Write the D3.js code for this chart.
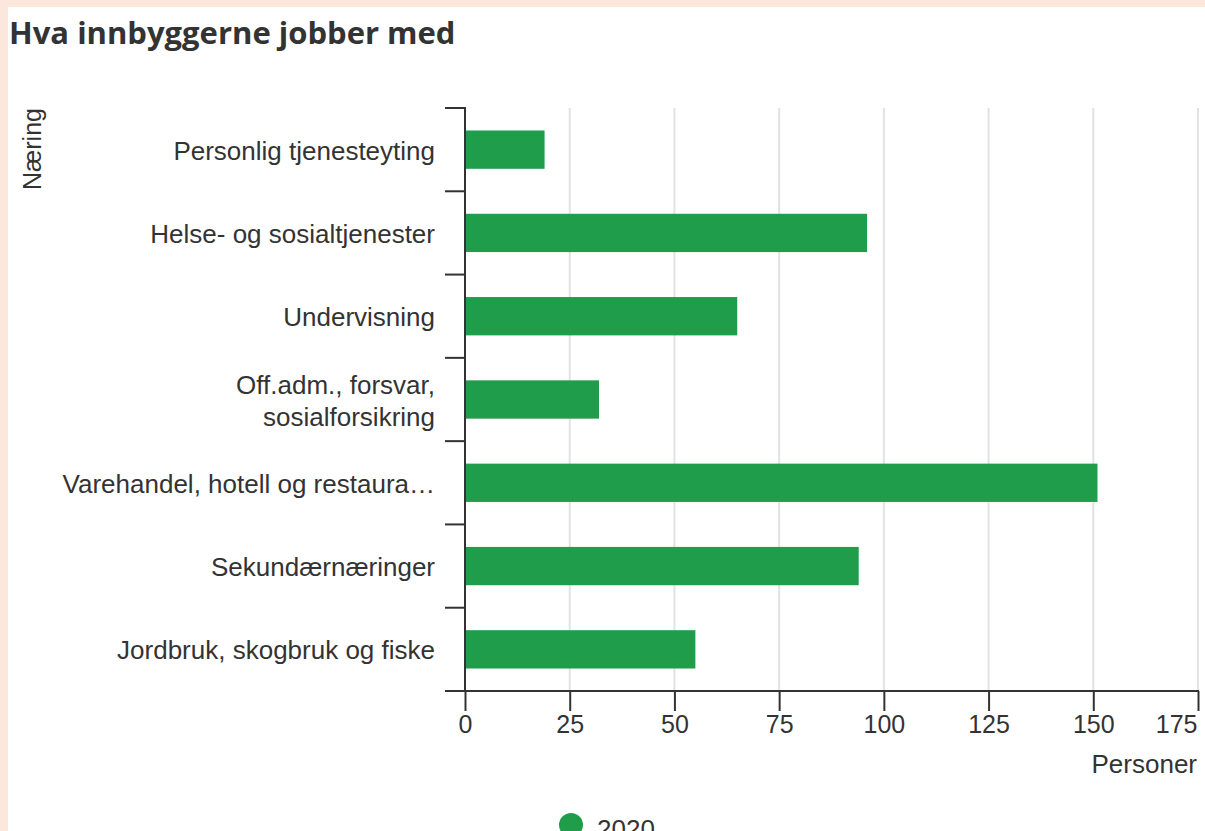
<!DOCTYPE html>
<html>
<head>
<meta charset="utf-8">
<script src="https://cdn.jsdelivr.net/npm/d3@7"></script>
<style>
  html, body { margin: 0; padding: 0; background: #ffffff; overflow: hidden; }
  svg { display: block; }
</style>
</head>
<body>
<svg id="chart" width="1205" height="831"></svg>
<script>
// ---- data ----
const categories = [
  "Personlig tjenesteyting",
  "Helse- og sosialtjenester",
  "Undervisning",
  "Off.adm., forsvar, sosialforsikring",
  "Varehandel, hotell og restaurant",
  "Sekundærnæringer",
  "Jordbruk, skogbruk og fiske"
];
const categoryLabels = [
  ["Personlig tjenesteyting"],
  ["Helse- og sosialtjenester"],
  ["Undervisning"],
  ["Off.adm., forsvar,", "sosialforsikring"],
  ["Varehandel, hotell og restaura…"],
  ["Sekundærnæringer"],
  ["Jordbruk, skogbruk og fiske"]
];
const values2020 = [19, 96, 65, 32, 151, 94, 55];
const xTicks = [0, 25, 50, 75, 100, 125, 150, 175];
const seriesName = "2020";
const titleText = "Hva innbyggerne jobber med";
const yTitle = "Næring";
const xTitle = "Personer";

// ---- styles ----
const barColor = "#1f9d4b";
const axisColor = "#333333";
const textColor = "#333333";
const gridColor = "#e2e2e2";
const font = "'Liberation Sans', Arial, sans-serif";

const svg = d3.select("#chart");

// page border (peach)
svg.append("rect").attr("x", 0).attr("y", 0).attr("width", 1205).attr("height", 7).attr("fill", "#fbe7dc");
svg.append("rect").attr("x", 0).attr("y", 0).attr("width", 8).attr("height", 831).attr("fill", "#fbe7dc");

// title
svg.append("text")
  .attr("x", 9).attr("y", 44)
  .attr("font-family", "'Open Sans', sans-serif")
  .attr("font-weight", 700)
  .attr("font-size", 31)
  .attr("fill", "#333333")
  .text(titleText);

const x = d3.scaleLinear().domain([0, 175]).range([465, 1198]);
const y = d3.scaleBand().domain(categories).range([108, 691]).paddingInner(0.54).paddingOuter(0.27);

// gridlines
svg.append("g").selectAll("line")
  .data(xTicks.filter(t => t !== 0))
  .join("line")
  .attr("x1", d => x(d)).attr("x2", d => x(d))
  .attr("y1", 108).attr("y2", 691)
  .attr("stroke", gridColor).attr("stroke-width", 2);

// bars
svg.append("g").selectAll("rect")
  .data(categories)
  .join("rect")
  .attr("x", x(0))
  .attr("y", d => y(d))
  .attr("width", (d, i) => x(values2020[i]) - x(0))
  .attr("height", y.bandwidth())
  .attr("fill", barColor);

// x axis
const xAxis = d3.axisBottom(x).tickValues(xTicks).tickSize(20).tickPadding(4).tickSizeOuter(0);
const gx = svg.append("g").attr("transform", "translate(0,691)").call(xAxis);
gx.select(".domain").remove();
gx.selectAll(".tick line").attr("stroke", axisColor).attr("stroke-width", 2);
gx.selectAll(".tick text")
  .attr("font-family", font).attr("font-size", 25).attr("fill", textColor)
  .attr("dy", "0.71em");
// keep the last label inside the chart (right-aligned to its tick)
gx.selectAll(".tick text")
  .filter(d => d === xTicks[xTicks.length - 1])
  .attr("text-anchor", "end").attr("x", -1);
gx.append("line").attr("x1", 445).attr("x2", 1199).attr("y1", 0).attr("y2", 0)
  .attr("stroke", axisColor).attr("stroke-width", 2);

// y axis line and divider ticks
const dividers = d3.range(categories.length + 1).map(i => 108 + i * (583 / categories.length));
svg.append("line").attr("x1", 465).attr("x2", 465).attr("y1", 107).attr("y2", 691)
  .attr("stroke", axisColor).attr("stroke-width", 2);
svg.append("g").selectAll("line")
  .data(dividers)
  .join("line")
  .attr("x1", 445).attr("x2", 465)
  .attr("y1", d => d).attr("y2", d => d)
  .attr("stroke", axisColor).attr("stroke-width", 2);

// category labels
const labelG = svg.append("g")
  .attr("font-family", font).attr("font-size", 26).attr("fill", textColor)
  .attr("text-anchor", "end");
categories.forEach((c, i) => {
  const lines = categoryLabels[i];
  const cy = y(c) + y.bandwidth() / 2;
  const t = labelG.append("text").attr("x", 435).attr("y", cy + 10);
  lines.forEach((ln, j) => {
    t.append("tspan")
      .attr("x", 435)
      .attr("y", cy + 10 + (j - (lines.length - 1) / 2) * 32)
      .text(ln);
  });
});

// axis titles
svg.append("text")
  .attr("transform", "translate(41,108) rotate(-90)")
  .attr("text-anchor", "end")
  .attr("font-family", font).attr("font-size", 25).attr("fill", textColor)
  .text(yTitle);

svg.append("text")
  .attr("x", 1197).attr("y", 773)
  .attr("text-anchor", "end")
  .attr("font-family", font).attr("font-size", 26).attr("fill", textColor)
  .text(xTitle);

// legend
svg.append("circle").attr("cx", 571).attr("cy", 825).attr("r", 12).attr("fill", barColor);
svg.append("text")
  .attr("x", 597).attr("y", 838)
  .attr("font-family", font).attr("font-size", 26).attr("fill", textColor)
  .text(seriesName);
</script>
</body>
</html>
